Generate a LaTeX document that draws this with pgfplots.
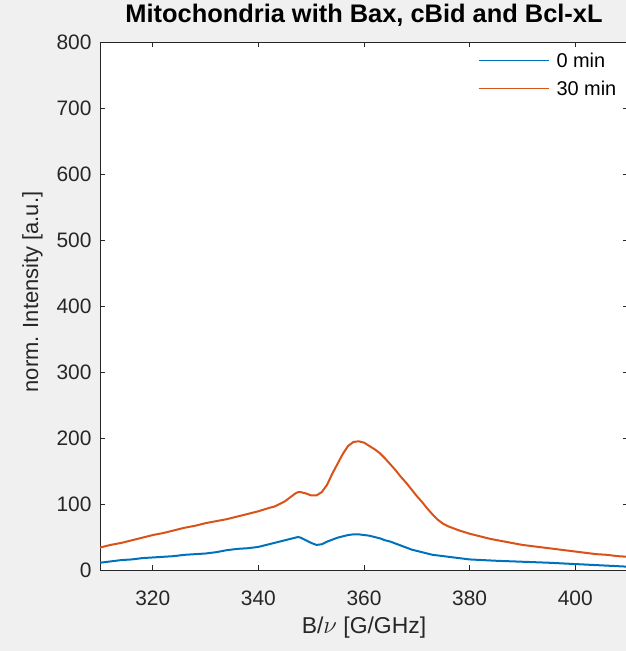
\documentclass[border=0pt]{standalone}
\usepackage{pgfplots}
\pgfplotsset{compat=1.18}
\usepackage{fontspec}
\setmainfont{Liberation Sans}
\definecolor{mblue}{RGB}{0,114,189}
\definecolor{morange}{RGB}{217,83,25}
\definecolor{axgray}{RGB}{38,38,38}
\definecolor{bggray}{RGB}{240,240,240}
\begin{document}
\begin{tikzpicture}
\useasboundingbox (0,0) rectangle (626bp,651bp);
\fill[bggray] (0,0) rectangle (626bp,651bp);
\begin{axis}[
  at={(100bp,81bp)}, anchor=south west,
  scale only axis, width=528bp, height=528bp,
  xmin=310, xmax=410, ymin=0, ymax=800,
  xtick={320,340,360,380,400}, ytick={0,100,...,800},
  tick align=inside, major tick length=5bp,
  axis line style={axgray, line width=0.7bp},
  every tick/.style={axgray, line width=0.7bp},
  axis background/.style={fill=white},
  /pgf/number format/assume math mode=true,
  tick label style={font=\fontsize{21}{21}\selectfont, text=axgray},
  yticklabel style={xshift=-5bp},
  xticklabel style={yshift=-17bp},
  title={Mitochondria with Bax, cBid and Bcl-xL},
  title style={font=\fontsize{25.5}{25.5}\selectfont\bfseries, anchor=base, at={(0.5,1)}, yshift=14bp},
  xlabel={B/$\nu$ [G/GHz]},
  xlabel style={font=\fontsize{23}{23}\selectfont, text=axgray, at={(axis description cs:0.5,0)}, anchor=base, yshift=-63bp},
  ylabel={norm. Intensity [a.u.]},
  ylabel style={font=\fontsize{22}{22}\selectfont, text=axgray, at={(axis description cs:-0.1174,0.5265)}, anchor=base},
  legend style={at={(1,1)}, anchor=north east, xshift=-10bp, yshift=-9bp, draw=none, fill=none,
    font=\fontsize{20}{20}\selectfont, row sep=9bp, column sep=6bp, inner sep=0pt, nodes={inner sep=1.5bp}},
  legend cell align=left,
  legend image code/.code={\draw[#1, line width=1bp] (0bp,0bp) -- (70bp,0bp);},
]
\addplot[mblue, line width=2bp] coordinates {
(310,11) (312,13) (314,15) (316,16) (318,18) (320,19) (322,20) (324,21) (326,23) (328,24)
(330,25) (332,27) (334,30) (336,32) (338,33) (340,35) (342,39) (344,43) (346,47) (347.5,50)
(348,49) (349,45) (350,41) (351,38) (352,39) (353,43) (354,46) (355,49) (356,51) (357,53)
(358,54) (359,54) (360,53) (361,52) (362,50) (363,48) (364,45) (365,43) (366,40) (367,37)
(368,34) (369,31) (370,29) (371,27) (372,25) (373,23) (374,22) (376,20) (378,18) (380,16)
(385,14) (390,12.5) (395,11) (400,9) (405,7) (410,5)
};
\addlegendentry{0 min}
\addplot[morange, line width=2bp] coordinates {
(310,34) (312,38) (314,41) (316,45) (318,49) (320,53) (322,56) (324,60) (326,64) (328,67)
(330,71) (332,74) (334,77) (336,81) (338,85) (340,89) (342,94) (343,96) (344,100) (345,104)
(346,110) (347,116) (347.5,118) (348,118) (349,116) (350,113) (351,113) (352,118) (353,129) (354,146)
(355,161) (356,176) (357,188) (358,194) (359,195) (360,193) (361,188) (362,183) (363,177) (364,169)
(365,160) (366,151) (367,141) (368,132) (369,122) (370,112) (371,103) (372,93) (373,84) (374,76)
(375,70) (376,66) (377,63) (378,60) (380,55) (382,51) (384,47) (386,44) (388,41) (390,38)
(392,36) (394,34) (396,32) (398,30) (400,28) (402,26) (404,24) (406,23) (408,21) (410,20)
};
\addlegendentry{30 min}
\end{axis}
\end{tikzpicture}
\end{document}
